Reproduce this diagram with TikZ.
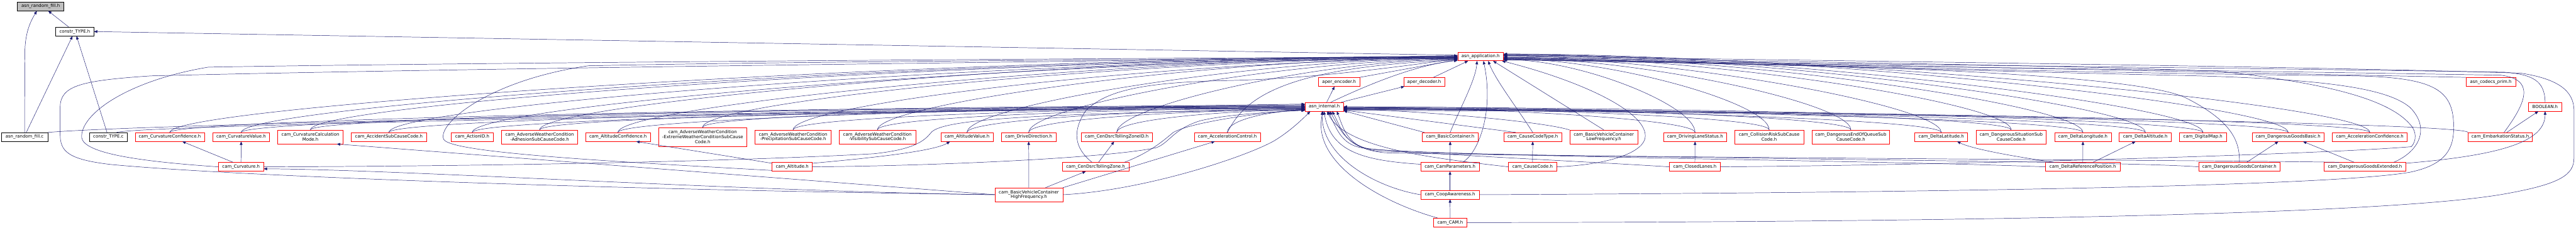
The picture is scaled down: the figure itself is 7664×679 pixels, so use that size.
\documentclass[tikz,border=0pt]{standalone}
\usepackage{fontspec}
\setmainfont{DejaVu Sans}
\usetikzlibrary{arrows.meta}
\definecolor{edgec}{HTML}{191970}
\definecolor{rootfill}{HTML}{BFBFBF}
\tikzset{
  rbox/.style={draw=red, fill=white, line width=1.1pt, inner sep=0pt, align=center,
     font=\fontsize{13}{14.5}\selectfont, minimum height=26pt},
  kbox/.style={rbox, draw=black},
  two/.style={minimum height=41pt},
  three/.style={minimum height=56pt},
  wd/.style={minimum width=#1pt},
  lnk/.style={draw=edgec, line width=0.9pt, -{Triangle[length=10pt,width=8pt]}},
}
\newcommand{\eLI}[3]{\draw[lnk] (#1.north) .. controls +(0,-40) and +(-#3,0) .. (intl.#2);}
\newcommand{\eLA}[3]{\draw[lnk] (#1.north) .. controls +(0,-80) and +(-#3,0) .. (app.#2);}
\newcommand{\eRI}[3]{\draw[lnk] (#1.north) .. controls +(0,-40) and +(#3,0) .. (intl.#2);}
\newcommand{\eRA}[3]{\draw[lnk] (#1.north) .. controls +(0,-80) and +(#3,0) .. (app.#2);}
\begin{document}
\begin{tikzpicture}[x=1pt,y=-1pt]
\useasboundingbox (0,0) rectangle (7664,679);
% ---------- nodes ----------
\node[kbox, fill=rootfill, wd=138] (rfh) at (121,19) {asn\_random\_fill.h};
\node[kbox, wd=113] (ctypeh) at (222.5,94) {constr\_TYPE.h};
\node[rbox, wd=136] (app) at (4405,168) {asn\_application.h};
\node[rbox, wd=122] (aenc) at (3984,244) {aper\_encoder.h};
\node[rbox, wd=122] (adec) at (4237,244) {aper\_decoder.h};
\node[rbox, wd=147] (prim) at (7410.5,244) {asn\_codecs\_prim.h};
\node[rbox, wd=114] (intl) at (3940,318) {asn\_internal.h};
\node[rbox, wd=98] (bool) at (7572,318) {BOOLEAN.h};
% row 5
\node[kbox, wd=138] (rfc) at (73,408) {asn\_random\_fill.c};
\node[kbox, wd=113] (ctypec) at (322.5,408) {constr\_TYPE.c};
\node[rbox, wd=206] (curvconf) at (505,408) {cam\_CurvatureConfidence.h};
\node[rbox, wd=169] (curvval) at (717.5,408) {cam\_CurvatureValue.h};
\node[rbox, two, wd=195] (curvcalc) at (923.5,408) {cam\_CurvatureCalculation\\Mode.h};
\node[rbox, wd=224] (accsub) at (1157,408) {cam\_AccidentSubCauseCode.h};
\node[rbox, wd=124] (action) at (1405,408) {cam\_ActionID.h};
\node[rbox, two, wd=227] (adhesion) at (1605.5,408) {cam\_AdverseWeatherCondition\\-AdhesionSubCauseCode.h};
\node[rbox, wd=193] (altconf) at (1838.5,408) {cam\_AltitudeConfidence.h};
\node[rbox, three, wd=263] (extreme) at (2090.5,408) {cam\_AdverseWeatherCondition\\-ExtremeWeatherConditionSubCause\\Code.h};
\node[rbox, two, wd=227] (precip) at (2359.5,408) {cam\_AdverseWeatherCondition\\-PrecipitationSubCauseCode.h};
\node[rbox, two, wd=227] (visib) at (2610.5,408) {cam\_AdverseWeatherCondition\\-VisibilitySubCauseCode.h};
\node[rbox, wd=156] (altval) at (2877,408) {cam\_AltitudeValue.h};
\node[rbox, wd=163] (drivedir) at (3060.5,408) {cam\_DriveDirection.h};
\node[rbox, wd=213] (tollid) at (3322.5,408) {cam\_CenDsrcTollingZoneID.h};
\node[rbox, wd=197] (accctl) at (3651.5,408) {cam\_AccelerationControl.h};
\node[rbox, wd=167] (basiccont) at (4314.5,408) {cam\_BasicContainer.h};
\node[rbox, wd=172] (cctype) at (4560,408) {cam\_CauseCodeType.h};
\node[rbox, two, wd=203] (lowfreq) at (4771.5,408) {cam\_BasicVehicleContainer\\LowFrequency.h};
\node[rbox, wd=188] (dls) at (5043,408) {cam\_DrivingLaneStatus.h};
\node[rbox, two, wd=205] (collrisk) at (5263.5,408) {cam\_CollisionRiskSubCause\\Code.h};
\node[rbox, two, wd=231] (deq) at (5506.5,408) {cam\_DangerousEndOfQueueSub\\CauseCode.h};
\node[rbox, wd=157] (dlat) at (5775.5,408) {cam\_DeltaLatitude.h};
\node[rbox, two, wd=209] (dsit) at (5983.5,408) {cam\_DangerousSituationSub\\CauseCode.h};
\node[rbox, wd=168] (dlon) at (6197,408) {cam\_DeltaLongitude.h};
\node[rbox, wd=155] (dalt) at (6382.5,408) {cam\_DeltaAltitude.h};
\node[rbox, wd=140] (dmap) at (6554,408) {cam\_DigitalMap.h};
\node[rbox, wd=215] (dgb) at (6807.5,408) {cam\_DangerousGoodsBasic.h};
\node[rbox, wd=223] (accconf) at (7050.5,408) {cam\_AccelerationConfidence.h};
\node[rbox, wd=191] (embark) at (7438.5,408) {cam\_EmbarkationStatus.h};
% row 6
\node[rbox, wd=134] (curv) at (717,497) {cam\_Curvature.h};
\node[rbox, wd=120] (alt) at (2357,497) {cam\_Altitude.h};
\node[rbox, wd=199] (tollz) at (3259.5,497) {cam\_CenDsrcTollingZone.h};
\node[rbox, wd=174] (campar) at (4314,497) {cam\_CamParameters.h};
\node[rbox, wd=143] (cc) at (4559.5,497) {cam\_CauseCode.h};
\node[rbox, wd=151] (closed) at (5042.5,497) {cam\_ClosedLanes.h};
\node[rbox, wd=223] (drp) at (6196.5,497) {cam\_DeltaReferencePosition.h};
\node[rbox, wd=243] (dgc) at (6662.5,497) {cam\_DangerousGoodsContainer.h};
\node[rbox, wd=242] (dge) at (7036,497) {cam\_DangerousGoodsExtended.h};
% row 7, 8
\node[rbox, two, wd=202] (highfreq) at (3061,580) {cam\_BasicVehicleContainer\\HighFrequency.h};
\node[rbox, wd=174] (coop) at (4314,580) {cam\_CoopAwareness.h};
\node[rbox, wd=99] (cam) at (4314.5,663) {cam\_CAM.h};
% ---------- top edges ----------
\draw[lnk] (rfc.north) -- (74,160) .. controls (74,95) and (92,62) .. (rfh.-130);
\draw[lnk] (ctypeh.143) -- (rfh.-31);
\draw[lnk] (rfc.69) -- (ctypeh.-117);
\draw[lnk] (ctypec.107) -- (ctypeh.-69);
\draw[lnk] (app.177) -- (ctypeh.east);
\draw[lnk] (aenc.north east) -- (app.188);
\draw[lnk] (adec.26) -- (app.-160);
\draw[lnk] (intl.62) -- (aenc.-135);
\draw[lnk] (intl.15) -- (adec.-167);
\draw[lnk] (intl.35) .. controls (4050,262) and (4200,195) .. (app.190);
\draw[lnk] (prim.north west) -- (app.-3);
\draw[lnk] (bool.north) .. controls (7571,240) and (7535,222) .. (7450,215) .. controls (6500,200) and (5000,186) .. (app.-6);
\draw[lnk] (embark.35) -- (bool.-146);
\draw[lnk] (embark.50) .. controls (7520,300) and (7540,236) .. (7440,224) .. controls (6500,208) and (5000,190) .. (app.-8);
\draw[lnk] (embark.north west) .. controls +(0,-30) and +(1200,0) .. (intl.-11);
\draw[lnk] (dge.5) .. controls (7450,462) and (7572,420) .. (bool.south);
\draw[lnk] (rfc.north east) .. controls (450,368) and (2500,330) .. (intl.172);
\draw[lnk] (ctypec.29) .. controls (420,372) and (2500,335) .. (intl.174);
% ---------- row 5 to app / internal ----------
\eLI{curvconf}{176}{1200} \eLA{curvconf}{180}{1500}
\eLI{curvval}{178}{1200} \eLA{curvval}{182}{1500}
\eLI{curvcalc}{180}{1200} \eLA{curvcalc}{183}{1400}
\eLI{accsub}{182}{1100} \eLA{accsub}{184}{1300}
\eLI{action}{184}{1000} \eLA{action}{185}{1200}
\eLI{adhesion}{186}{900} \eLA{adhesion}{180}{1100}
\eLI{altconf}{179}{800} \eLA{altconf}{182}{1000}
\eLI{extreme}{181}{700} \eLA{extreme}{184}{900}
\eLI{precip}{183}{600} \eLA{precip}{186}{800}
\eLI{visib}{185}{500} \eLA{visib}{183}{700}
\eLI{altval}{187}{400} \eLA{altval}{185}{600}
\eLI{drivedir}{189}{330} \eLA{drivedir}{187}{500}
\eLI{tollid}{190}{220} \eLA{tollid}{188}{400}
\eLI{accctl}{191}{90}
\draw[lnk] (accctl.north) .. controls (3700,300) and (3800,200) .. (app.189);
\draw[lnk] (basiccont.north) .. controls (4340,330) and (4390,240) .. (app.-128);
\draw[lnk] (basiccont.170) -- (intl.-12);
\draw[lnk] (cctype.north) .. controls (4520,330) and (4450,240) .. (app.-31);
\draw[lnk] (cctype.165) -- (intl.-10);
\draw[lnk] (lowfreq.north) -- (app.-20);
\draw[lnk] (lowfreq.north west) .. controls (4600,365) and (4300,335) .. (intl.-5);
\eRI{dls}{-2}{420} \eRA{dls}{-8}{230}
\eRI{collrisk}{-4}{500} \eRA{collrisk}{-6}{320}
\eRI{deq}{0}{600} \eRA{deq}{-4}{400}
\eRI{dlat}{-6}{700} \eRA{dlat}{-2}{500}
\eRI{dsit}{-3}{800} \eRA{dsit}{0}{600}
\eRI{dlon}{-8}{900} \eRA{dlon}{2}{700}
\eRI{dalt}{-5}{950} \eRA{dalt}{4}{750}
\eRI{dmap}{-1}{1000} \eRA{dmap}{5}{800}
\eRI{dgb}{-7}{1100} \eRA{dgb}{6}{900}
\eRI{accconf}{-9}{1200} \eRA{accconf}{3}{1000}
% ---------- cam_Curvature ----------
\draw[lnk] (curv.north) -- (curvval.south);
\draw[lnk] (curv.150) -- (curvconf.-20);
\draw[lnk] (curv.west) .. controls (400,480) and (250,455) .. (243,410) .. controls (238,340) and (380,240) .. (620,200) .. controls (1500,185) and (3600,172) .. (app.181);
\draw[lnk] (curv.east) .. controls (1500,495) and (2200,480) .. (2600,458) .. controls (2720,445) and (2750,420) .. (2770,395) .. controls (2800,360) and (3000,338) .. (intl.188);
% ---------- cam_Altitude ----------
\draw[lnk] (alt.170) -- (altconf.-14);
\draw[lnk] (alt.10) .. controls (2600,470) and (2780,450) .. (altval.-165);
\draw[lnk] (alt.-170) .. controls (1800,480) and (1340,455) .. (1320,415) .. controls (1300,370) and (1450,240) .. (1750,196) .. controls (2500,180) and (3800,178) .. (app.178);
\draw[lnk] (alt.east) .. controls (2800,494) and (3300,470) .. (3440,440) .. controls (3480,425) and (3490,385) .. (3570,360) .. controls (3650,340) and (3800,333) .. (intl.-170);
% ---------- cam_CenDsrcTollingZone ----------
\draw[lnk] (tollz.57) -- (tollid.-120);
\draw[lnk] (tollz.128) .. controls (3195,440) and (3190,390) .. (3230,330) .. controls (3290,270) and (3400,245) .. (3650,240) .. controls (3900,235) and (4150,200) .. (app.186);
\draw[lnk] (tollz.9) .. controls (3420,455) and (3460,420) .. (3490,395) .. controls (3530,370) and (3700,340) .. (intl.-172);
% ---------- HighFrequency ----------
\draw[lnk] (highfreq.north) -- (drivedir.south);
\draw[lnk] (highfreq.23) -- (tollz.-155);
\draw[lnk] (highfreq.north east) -- (accctl.-160);
\draw[lnk] (highfreq.east) .. controls (3400,568) and (3700,470) .. (3790,420) .. controls (3840,390) and (3880,350) .. (intl.-162);
\draw[lnk] (highfreq.west) .. controls (2200,570) and (1200,505) .. (curv.-5);
\draw[lnk] (highfreq.west) -- (curvcalc.-15);
\draw[lnk] (highfreq.west) .. controls (1800,565) and (700,525) .. (330,490) .. controls (200,475) and (179,450) .. (179,400) -- (179,320) .. controls (179,255) and (240,240) .. (450,226) .. controls (1500,200) and (3700,178) .. (app.179);
% ---------- CamParameters / CoopAwareness / CAM ----------
\draw[lnk] (campar.north) -- (basiccont.south);
\draw[lnk] (campar.175) .. controls (4050,478) and (3960,450) .. (intl.-95);
\draw[lnk] (campar.20) .. controls (4400,455) and (4445,330) .. (app.-58);
\draw[lnk] (coop.north) -- (campar.south);
\draw[lnk] (coop.west) .. controls (4100,560) and (3930,470) .. (intl.-115);
\draw[lnk] (coop.east) .. controls (5500,575) and (6900,560) .. (7170,513) .. controls (7280,490) and (7300,440) .. (7300,380) .. controls (7300,270) and (7250,230) .. (7000,226) .. controls (6000,215) and (4900,180) .. (app.-5);
\draw[lnk] (cam.north) -- (coop.south);
\draw[lnk] (cam.160) .. controls (4100,600) and (3900,480) .. (intl.-105);
\draw[lnk] (cam.east) .. controls (5800,662) and (7100,640) .. (7450,578) .. controls (7620,548) and (7658,520) .. (7658,470) -- (7658,330) .. controls (7658,270) and (7610,235) .. (7500,218) .. controls (6800,195) and (4900,175) .. (app.2);
% ---------- CauseCode ----------
\draw[lnk] (cc.north) -- (cctype.south);
\draw[lnk] (cc.west) .. controls (4250,470) and (4000,440) .. (intl.-60);
\draw[lnk] (cc.east) .. controls (4800,490) and (4895,450) .. (4895,405) .. controls (4895,330) and (4700,240) .. (app.-12);
% ---------- ClosedLanes ----------
\draw[lnk] (closed.north) -- (dls.south);
\draw[lnk] (closed.west) .. controls (4700,480) and (4150,455) .. (4050,440) .. controls (3990,430) and (3975,380) .. (intl.-50);
\draw[lnk] (closed.east) .. controls (5800,492) and (6900,460) .. (7174,437) .. controls (7190,420) and (7190,390) .. (7170,370) .. controls (7100,290) and (6900,245) .. (6600,212) .. controls (6000,190) and (4900,178) .. (app.-2);
% ---------- DeltaReferencePosition ----------
\draw[lnk] (drp.north) -- (dlon.south);
\draw[lnk] (drp.24) -- (dalt.-155);
\draw[lnk] (drp.171) .. controls (5950,460) and (5860,440) .. (dlat.-16);
\draw[lnk] (drp.west) .. controls (5600,478) and (4500,470) .. (4080,445) .. controls (4000,430) and (3985,380) .. (intl.-40);
% ---------- DangerousGoods ----------
\draw[lnk] (dgc.32) -- (dgb.-155);
\draw[lnk] (dgc.north) .. controls (6664,420) and (6640,360) .. (6500,290) .. controls (6300,200) and (5000,185) .. (app.-7);
\draw[lnk] (dgc.west) .. controls (6300,478) and (4600,470) .. (4100,450) .. controls (4000,440) and (3990,380) .. (intl.-30);
\draw[lnk] (dge.157) -- (dgb.-17);
\draw[lnk] (dge.9) .. controls (7200,450) and (7230,380) .. (7170,320) .. controls (7100,260) and (6900,235) .. (6500,225) .. controls (5800,210) and (4900,180) .. (app.-9);
\draw[lnk] (dge.170) .. controls (6700,478) and (4600,468) .. (4120,455) .. controls (4010,445) and (4000,390) .. (intl.-20);
\end{tikzpicture}
\end{document}
